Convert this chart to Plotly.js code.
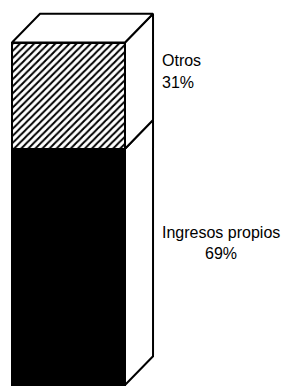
<!DOCTYPE html>
<html>
<head>
<meta charset="utf-8">
<script src="https://cdn.plot.ly/plotly-3.0.1.min.js"></script>
<style>html,body{margin:0;padding:0;background:#fff;}#chart{width:283px;height:387px;}</style>
</head>
<body>
<div id="chart"></div>
<script>
// Data
const categories = ["Ingresos propios", "Otros"];
const values = [69, 31];
const percentLabels = ["69%", "31%"];

// Style / geometry
const barWidth = 1;
const depthX = 0.248;
const depthY = 8.4;
const labelPos = [
  {x: 1.35, yName: 44.4, xPct: 1.345, yPct: 38.3},
  {x: 1.0,  yName: 94.65, xPct: 0.965, yPct: 88.3}
];
const labelFont = {family: 'Liberation Sans, Arial, sans-serif', size: 16, color: '#000'};

const traces = [];
// front faces (stacked bars)
categories.forEach((c, i) => {
  const hatched = i === 1;
  traces.push({
    type: 'bar', x: [0], y: [values[i]], name: c, width: barWidth,
    marker: {
      color: hatched ? '#ffffff' : '#000000',
      line: {color: '#000', width: 2},
      pattern: hatched ? {shape: '/', size: 5, solidity: 0.4, fgcolor: '#000', bgcolor: '#fff', fillmode: 'replace'} : {shape: ''}
    },
    hoverinfo: 'skip'
  });
});

// side faces and top face computed from the data
const x1 = barWidth / 2, x0 = -barWidth / 2;
let cum = 0;
values.forEach((v, i) => {
  const lo = cum, hi = cum + v;
  cum = hi;
  traces.push({
    type: 'scatter', mode: 'lines', fill: 'toself', fillcolor: '#fff',
    x: [x1, x1 + depthX, x1 + depthX, x1, x1],
    y: [lo, lo + depthY, hi + depthY, hi, lo],
    line: {color: '#000', width: 2}, hoverinfo: 'skip'
  });
});
const total = cum;
traces.push({
  type: 'scatter', mode: 'lines', fill: 'toself', fillcolor: '#fff',
  x: [x0, x1, x1 + depthX, x0 + depthX, x0],
  y: [total, total, total + depthY, total + depthY, total],
  line: {color: '#000', width: 2}, hoverinfo: 'skip'
});

const annotations = [];
categories.forEach((c, i) => {
  annotations.push({x: labelPos[i].x, y: labelPos[i].yName, xref: 'x', yref: 'y', text: c, showarrow: false,
    xanchor: 'center', yanchor: 'middle', font: labelFont});
  annotations.push({x: labelPos[i].xPct, y: labelPos[i].yPct, xref: 'x', yref: 'y', text: percentLabels[i], showarrow: false,
    xanchor: 'center', yanchor: 'middle', font: labelFont});
});

const layout = {
  width: 283, height: 387,
  margin: {l: 0, r: 0, t: 0, b: 0},
  paper_bgcolor: '#fff', plot_bgcolor: '#fff',
  barmode: 'stack', showlegend: false,
  xaxis: {range: [-0.606, 1.898], visible: false, fixedrange: true},
  yaxis: {range: [-0.58, 112.43], visible: false, fixedrange: true},
  annotations: annotations
};

Plotly.newPlot('chart', traces, layout, {staticPlot: true, displayModeBar: false});
</script>
</body>
</html>
